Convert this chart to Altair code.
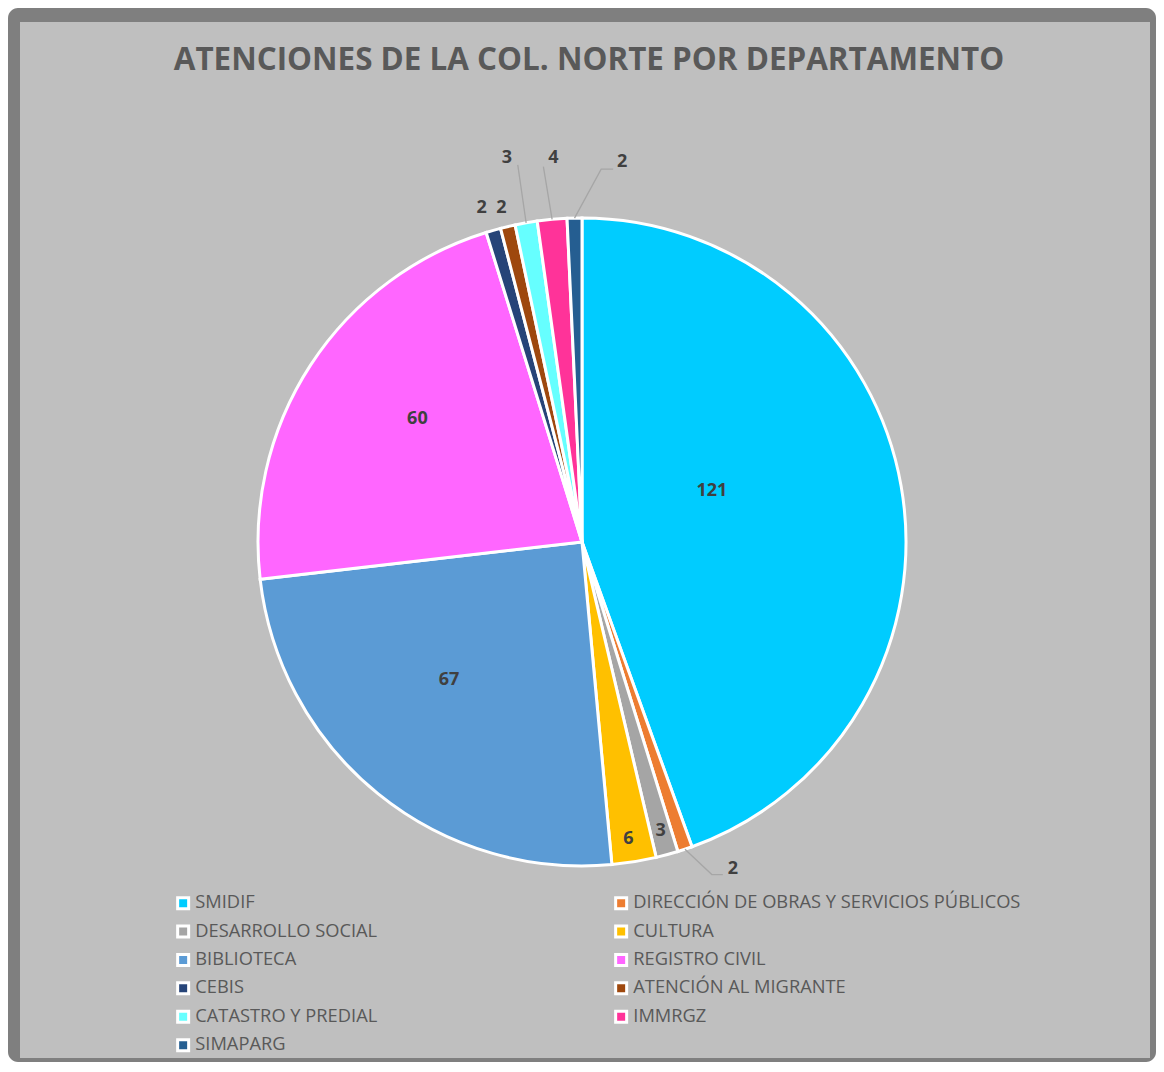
import math
import altair as alt
import pandas as pd

# ---- data ----
categories = ["SMIDIF", "DIRECCIÓN DE OBRAS Y SERVICIOS PÚBLICOS", "DESARROLLO SOCIAL",
              "CULTURA", "BIBLIOTECA", "REGISTRO CIVIL", "CEBIS", "ATENCIÓN AL MIGRANTE",
              "CATASTRO Y PREDIAL", "IMMRGZ", "SIMAPARG"]
values = [121, 2, 3, 6, 67, 60, 2, 2, 3, 4, 2]
colors = ["#00CCFF", "#ED7D31", "#A5A5A5", "#FFC000", "#5B9BD5", "#FF66FF",
          "#264478", "#9E480E", "#66FFFF", "#FF3399", "#255E91"]
title_text = "ATENCIONES DE LA COL. NORTE POR DEPARTAMENTO"

# ---- layout / style (pixels, chart coordinates) ----
W, H = 1148, 1054
CX, CY, R = 574, 534, 324
# label placement: radius from centre, extra dx, dy (px)
LABEL_LAYOUT = {
    "SMIDIF": (140, -8, -27),
    "DIRECCIÓN DE OBRAS Y SERVICIOS PÚBLICOS": (355, 38, -10),
    "DESARROLLO SOCIAL": (300, 0, 0),
    "CULTURA": (300, -2, 1),
    "BIBLIOTECA": (192, -12, -11),
    "REGISTRO CIVIL": (206, 8, -11),
    "CEBIS": (348, -5, 1),
    "ATENCIÓN AL MIGRANTE": (343, -2, 0),
    "CATASTRO Y PREDIAL": (390, -8, 0),
    "IMMRGZ": (386, 7, 0),
    "SIMAPARG": (382, 49, 2),
}
# leader line points, as offsets from the label centre (px)
LEADERS = {
    "CATASTRO Y PREDIAL": [(11, 7)],
    "IMMRGZ": [(-10, 9)],
    "SIMAPARG": [(-21, 7), (-9, 7)],
    "DIRECCIÓN DE OBRAS Y SERVICIOS PÚBLICOS": [(-21, 6), (-10, 6)],
}

df = pd.DataFrame({"cat": categories, "value": values, "idx": range(len(values))})
total = float(sum(values))
cum = df["value"].cumsum()
df["mid"] = (cum - df["value"] / 2.0) / total * 2 * math.pi

# label positions in unit space (x right, y up; 1 unit = R px)
lx, ly = [], []
for c, m in zip(df["cat"], df["mid"]):
    r, dx, dy = LABEL_LAYOUT[c]
    lx.append((r * math.sin(m) + dx) / R)
    ly.append((r * math.cos(m) - dy) / R)
df["lx"] = lx
df["ly"] = ly

rows = []
for c, m, x0, y0 in zip(df["cat"], df["mid"], df["lx"], df["ly"]):
    if c not in LEADERS:
        continue
    rows.append({"cat": c, "seq": 0, "x": math.sin(m), "y": math.cos(m)})
    for k, (ox, oy) in enumerate(LEADERS[c]):
        rows.append({"cat": c, "seq": k + 1, "x": x0 + ox / R, "y": y0 - oy / R})
leader_df = pd.DataFrame(rows)

xs = alt.Scale(domain=[-1, 1], range=[CX - R, CX + R])
ys = alt.Scale(domain=[-1, 1], range=[CY + R, CY - R])

one = pd.DataFrame({"a": [0]})
outer = alt.Chart(one).mark_rect(color="#7F7F7F", cornerRadius=10).encode(
    x=alt.value(0), x2=alt.value(W), y=alt.value(0), y2=alt.value(H))
inner = alt.Chart(one).mark_rect(color="#BFBFBF").encode(
    x=alt.value(12), x2=alt.value(W - 6), y=alt.value(14), y2=alt.value(H - 4))
title = alt.Chart(one).mark_text(
    text=title_text, font="Open Sans", fontSize=31.4, fontWeight="bold",
    color="#595959", align="center", baseline="middle").encode(
    x=alt.value(581), y=alt.value(53))

pie = alt.Chart(df).mark_arc(radius=R, stroke="white", strokeWidth=3).encode(
    theta=alt.Theta("value:Q", stack=True),
    order=alt.Order("idx:Q"),
    color=alt.Color("cat:N", scale=alt.Scale(domain=categories, range=colors),
                    legend=alt.Legend(
                        orient="none", legendX=166, legendY=886, columns=2,
                        direction="horizontal",
                        columnPadding=231, rowPadding=4.4, symbolType="square",
                        symbolSize=121, symbolStrokeColor="white",
                        symbolStrokeWidth=3, symbolOpacity=1,
                        labelFont="Open Sans", labelFontSize=18.3,
                        labelColor="#595959", labelLimit=700, labelOffset=3,
                        padding=0, title=None)),
    x=alt.value(CX), y=alt.value(CY),
)

leaders = alt.Chart(leader_df).mark_line(color="#A6A6A6", strokeWidth=1.3).encode(
    x=alt.X("x:Q", scale=xs, axis=None),
    y=alt.Y("y:Q", scale=ys, axis=None),
    detail="cat:N",
    order="seq:Q",
)

labels = alt.Chart(df).mark_text(
    font="Open Sans", fontSize=18, fontWeight="bold", color="#404040",
    align="center", baseline="middle").encode(
    x=alt.X("lx:Q", scale=xs, axis=None),
    y=alt.Y("ly:Q", scale=ys, axis=None),
    text="value:Q",
)

chart = alt.layer(outer, inner, title, pie, leaders, labels).properties(
    width=W, height=H, padding=0, autosize=alt.AutoSizeParams(type="none"),
    background="white",
).configure_view(strokeWidth=0)

chart.save("out.html", embed_options={"renderer": "svg", "actions": False})
